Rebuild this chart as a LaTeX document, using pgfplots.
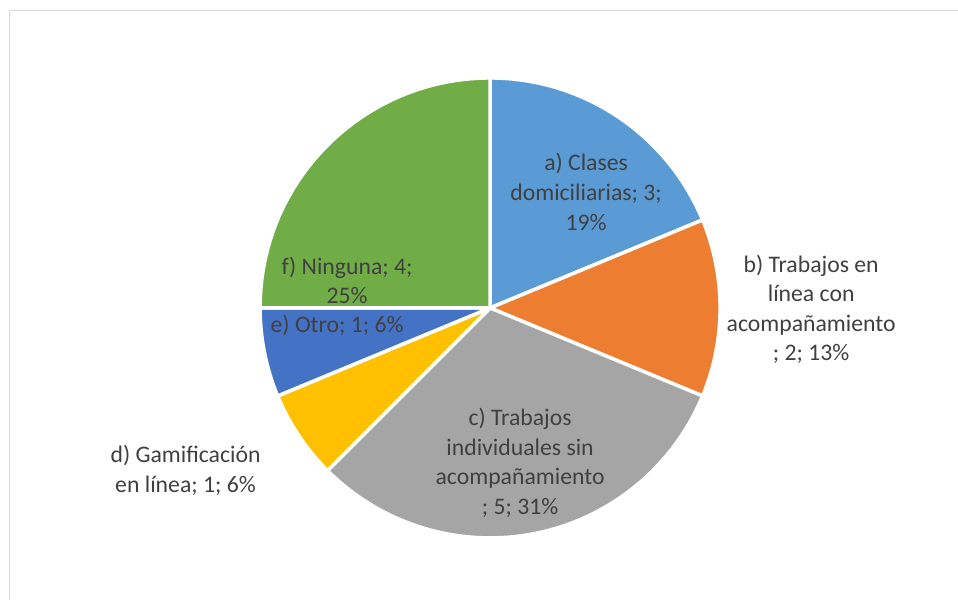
\documentclass[border=0pt]{standalone}
\usepackage{fontspec}
\setmainfont{Carlito}
\usepackage{pgfplots}
\usepackage{pgfplotstable}
\pgfplotsset{compat=1.18}

\definecolor{pie0}{HTML}{5B9BD5}
\definecolor{pie1}{HTML}{ED7D31}
\definecolor{pie2}{HTML}{A5A5A5}
\definecolor{pie3}{HTML}{FFC000}
\definecolor{pie4}{HTML}{4472C4}
\definecolor{pie5}{HTML}{70AD47}
\definecolor{lbl}{HTML}{404040}
\definecolor{chartframe}{HTML}{D9D9D9}

\tikzset{pielabel/.style={text=lbl, align=center, inner sep=0pt,
    font=\fontsize{13.5}{16.8}\selectfont}}

% a) .. f): count and rounded share
\pgfplotstableread{
idx value pct
0   3     19
1   2     13
2   5     31
3   1     6
4   1     6
5   4     25
}\piedata

% total and cumulative angles (clockwise from 12 o'clock)
\def\pietotal{0}
\pgfplotsforeachungrouped \pieidx in {0,...,5}{%
  \pgfplotstablegetelem{\pieidx}{value}\of\piedata
  \pgfmathsetmacro\pietotal{\pietotal+\pgfplotsretval}%
}
\def\piecum{0}
\pgfplotsforeachungrouped \pieidx in {0,...,5}{%
  \pgfplotstablegetelem{\pieidx}{value}\of\piedata
  \let\pieval\pgfplotsretval
  \pgfmathsetmacro\piestart{90-360*\piecum/\pietotal}%
  \pgfmathsetmacro\piecum{\piecum+\pieval}%
  \pgfmathsetmacro\pieend{90-360*\piecum/\pietotal}%
  \expandafter\xdef\csname pieS\pieidx\endcsname{\piestart}%
  \expandafter\xdef\csname pieE\pieidx\endcsname{\pieend}%
}

\begin{document}
\begin{tikzpicture}
\useasboundingbox (0,0) rectangle (19.16cm,12cm);
\begin{axis}[
    at={(0,0)}, anchor=south west,
    hide axis,
    x=0.02cm, y=0.02cm,
    xmin=-490, xmax=468,
    ymin=-292, ymax=308,
    clip=true,
  ]
  % chart area frame (cropped at right and bottom)
  \draw[chartframe, line width=0.7pt] (axis cs:-480.5,-292) -- (axis cs:-480.5,297.5) -- (axis cs:468,297.5);

  \pgfplotsinvokeforeach{0,...,5}{
    \fill[pie#1, draw=white, line width=2pt, line join=round]
      (axis cs:0,0) -- +(\csname pieS#1\endcsname:4.6cm)
      arc[start angle=\csname pieS#1\endcsname,
          end angle=\csname pieE#1\endcsname, radius=4.6cm] -- cycle;
  }

  \node[pielabel] at (axis cs:96,116) {a) Clases\\domiciliarias; 3;\\19\%};
  \node[pielabel] at (axis cs:321,-1.5) {b) Trabajos en\\línea con\\acompañamiento\\; 2; 13\%};
  \node[pielabel] at (axis cs:30,-155) {c) Trabajos\\individuales sin\\acompañamiento\\; 5; 31\%};
  \node[pielabel] at (axis cs:-304.5,-162.5) {d) Gamificación\\en línea; 1; 6\%};
  \node[pielabel] at (axis cs:-153,-18) {e) Otro; 1; 6\%};
  \node[pielabel] at (axis cs:-143,27.5) {f) Ninguna; 4;\\25\%};
\end{axis}
\end{tikzpicture}
\end{document}
